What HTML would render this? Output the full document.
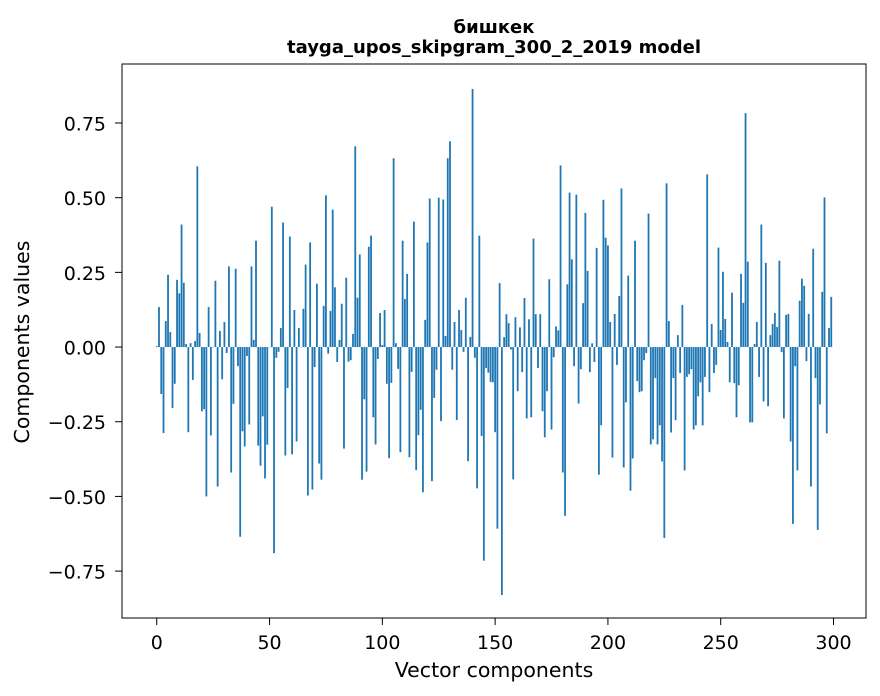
<!DOCTYPE html>
<html><head><meta charset="utf-8"><style>
body{margin:0;background:#fff;}
svg{display:block;font-family:"DejaVu Sans","Liberation Sans",sans-serif;}
</style></head><body>
<svg id="chart" width="880" height="696">
<text x="494" y="33" text-anchor="middle" font-size="18" font-weight="bold">бишкек</text>
<text x="494" y="53" text-anchor="middle" font-size="18" font-weight="bold">tayga_upos_skipgram_300_2_2019 model</text>
<g id="bars"></g>
<g id="axes"></g>
<rect x="122" y="64" width="744" height="554" fill="none" stroke="#000" stroke-width="1"/>
<text x="494" y="677" text-anchor="middle" font-size="20.5">Vector components</text>
<text transform="translate(29,342) rotate(-90)" text-anchor="middle" font-size="20.5">Components values</text>
</svg>
<script>
const z1=[0.003,0.134,-0.157,-0.288,0.087,0.242,0.05,-0.204,-0.123,0.225,0.18,0.41,0.215,0.01,-0.285,0.013,-0.11,0.02,0.605,0.047,-0.215,-0.208,-0.5,0.134,-0.296,0.0,0.222,-0.467,0.054,-0.108,0.084,-0.02,0.27,-0.42,-0.19,0.262,-0.064,-0.635,-0.282,-0.333,-0.03,-0.259,0.27,0.024,0.356,-0.33,-0.397,-0.232,-0.44,-0.327,0.0];
const z2=[0.47,-0.69,-0.036,-0.016,0.064,0.417,-0.363,-0.137,0.37,-0.359,0.124,-0.316,0.064,0.0,0.128,0.276,-0.497,0.35,-0.477,-0.067,0.212,-0.39,-0.444,0.138,0.508,-0.022,0.121,0.46,0.2,-0.05,0.024,0.145,-0.34,0.232,-0.049,-0.044,0.044,0.672,0.165,0.31,-0.444,-0.175,-0.417,0.336,0.373,-0.235,-0.326,-0.04,0.114];
const z3=[0.007,0.124,-0.123,-0.372,-0.12,0.632,0.013,-0.073,-0.352,0.356,0.161,0.245,-0.369,-0.083,0.42,-0.412,-0.295,-0.21,-0.486,0.091,0.35,0.497,-0.449,-0.17,-0.076,0.5,-0.248,0.494,0.037,0.632,0.689,-0.076,0.084,-0.244,0.124,0.057,-0.016,0.165,-0.382,0.034,0.864,-0.036,-0.473,0.373,-0.298,-0.715,-0.07,-0.086,-0.117];
const z4=[-0.118,-0.285,-0.608,0.214,-0.83,0.033,0.11,0.08,-0.008,-0.443,0.1,-0.148,0.066,-0.084,0.164,-0.239,0.093,-0.235,0.363,0.11,-0.07,0.11,-0.215,-0.302,-0.148,0.227,-0.276,-0.034,0.069,0.056,0.608,-0.42,-0.565,0.21,0.517,0.294,-0.064,0.51,-0.189,-0.074,0.147,0.449,0.255,-0.084,0.0125,-0.05,0.332,-0.427,-0.262,0.493,0.366];
const z5=[0.34,0.084,-0.37,0.111,-0.06,0.171,0.531,-0.403,-0.185,0.239,-0.481,-0.373,0.356,-0.114,-0.151,-0.148,-0.044,-0.02,0.447,-0.326,-0.309,-0.104,-0.326,-0.262,-0.383,-0.639,0.548,0.087,-0.286,-0.104,-0.245,0.04,-0.087,0.141,-0.413,-0.1,-0.091,-0.074,-0.276,-0.262,-0.165,-0.118,-0.262,-0.1,0.578,-0.151,0.077,-0.087,-0.06,0.333];
const z6=[0.057,0.252,0.094,0.017,-0.118,0.182,-0.121,-0.235,-0.128,0.245,0.148,0.783,0.286,-0.252,-0.252,0.01,0.084,-0.1,0.41,-0.182,0.282,-0.198,0.04,0.077,0.114,0.067,0.289,-0.017,-0.239,0.108,0.111,-0.316,-0.592,-0.064,-0.413,0.155,0.229,0.205,-0.047,0.111,-0.467,0.329,-0.104,-0.612,-0.192,0.185,0.501,-0.289,0.064,0.168,-0.272];
const values=z1.concat(z2,z3,z4,z5,z6).slice(0,300);
const xTicks=[0,50,100,150,200,250,300];
const yTicks=[-0.75,-0.5,-0.25,0,0.25,0.5,0.75];
const yTickLabels=["−0.75","−0.50","−0.25","0.00","0.25","0.50","0.75"];

const L=122,R=866,T=64,B=618,XMIN=-15.4,XMAX=314.4,YMIN=-0.907,YMAX=0.9475;
function xs(v){return L+(v-XMIN)/(XMAX-XMIN)*(R-L);}
function ys(v){return B-(v-YMIN)/(YMAX-YMIN)*(B-T);}
const NS="http://www.w3.org/2000/svg";
const gb=document.getElementById('bars');
values.forEach((v,i)=>{
  const r=document.createElementNS(NS,'rect');
  const x0=xs(i-0.4),x1=xs(i+0.4),y0=ys(Math.max(v,0)),y1=ys(Math.min(v,0));
  r.setAttribute('x',x0);r.setAttribute('width',x1-x0);
  r.setAttribute('y',y0);r.setAttribute('height',Math.max(y1-y0,0.3));
  r.setAttribute('fill','#1f77b4');
  
  
  gb.appendChild(r);
});
const ga=document.getElementById('axes');
xTicks.forEach(t=>{
  const x=xs(t);
  const l=document.createElementNS(NS,'line');
  l.setAttribute('x1',x);l.setAttribute('x2',x);l.setAttribute('y1',B);l.setAttribute('y2',B+7);l.setAttribute('stroke','#000');
  
  
  ga.appendChild(l);
  const tx=document.createElementNS(NS,'text');
  tx.setAttribute('x',x);tx.setAttribute('y',649);tx.setAttribute('text-anchor','middle');tx.setAttribute('font-size','19');
  tx.textContent=t;
  
  
  ga.appendChild(tx);
});
yTicks.forEach((t,i)=>{
  const y=ys(t);
  const l=document.createElementNS(NS,'line');
  l.setAttribute('x1',L-7);l.setAttribute('x2',L);l.setAttribute('y1',y);l.setAttribute('y2',y);l.setAttribute('stroke','#000');
  
  
  ga.appendChild(l);
  const tx=document.createElementNS(NS,'text');
  tx.setAttribute('x',106);tx.setAttribute('y',y+7.5);tx.setAttribute('text-anchor','end');tx.setAttribute('font-size','19');
  tx.textContent=yTickLabels[i];
  
  
  ga.appendChild(tx);
});
</script>
</body></html>
